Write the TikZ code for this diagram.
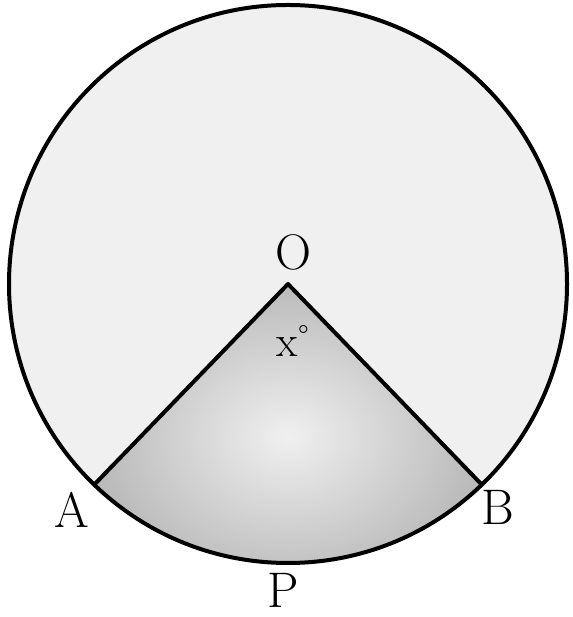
\documentclass[tikz,border=0pt]{standalone}
\usetikzlibrary{calc}
\begin{document}
\begin{tikzpicture}[x=1pt,y=1pt,
  lbl/.style={inner sep=0pt,font=\fontsize{50}{58}\selectfont},
  edge/.style={line width=4pt,line join=round}]
\useasboundingbox (0,0) rectangle (572,617);
\coordinate (O) at (288,333);
\fill[black!6] (O) circle[radius=279];
\shade[inner color=black!6,outer color=black!27]
  (O) -- ++(226:279) arc[start angle=226,end angle=314,radius=279] -- cycle;
\coordinate (A) at ($(O)+(226:279)$);
\coordinate (B) at ($(O)+(314:279)$);
\draw[edge] (O) circle[radius=279];
\draw[edge] (A) -- (O) -- (B);
\node[lbl] (lO) at (293,365) {O};
\node[lbl,font=\fontsize{44}{50}\selectfont] (lx) at (293,276) {x\textsuperscript{\textdegree}};
\node[lbl] (lA) at (72,107) {A};
\node[lbl] (lB) at (498,110) {B};
\node[lbl] (lP) at (283,27) {P};
\end{tikzpicture}
\end{document}
